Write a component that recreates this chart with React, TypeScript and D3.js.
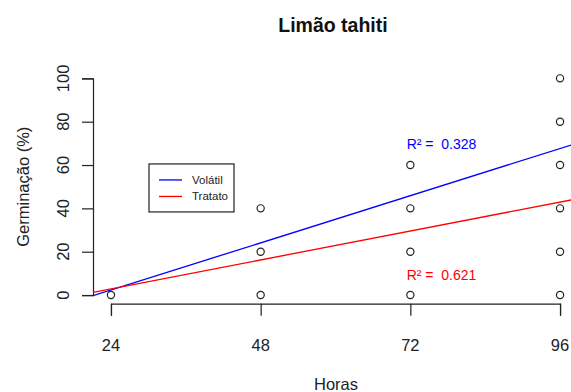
import React, { useEffect, useRef } from 'react';
import { select, scaleLinear, axisBottom, axisLeft } from 'd3';

// observed points (hours, germination %)
const pointHours = [24, 48, 48, 48, 72, 72, 72, 72, 96, 96, 96, 96, 96, 96];
const pointValues = [0, 0, 20, 40, 0, 20, 40, 60, 0, 20, 40, 60, 80, 100];

// fitted lines
const seriesNames = ['Volátil', 'Tratato'];
const seriesColors = ['blue', 'red'];
const intercepts = [-19.45, -10.49];
const slopes = [0.907, 0.556];
const r2Labels = ['0.328', '0.621'];
const r2LabelX = [77, 77];
const r2LabelY = [69.5, 9.2];

const xTicks = [24, 48, 72, 96];
const yTicks = [0, 20, 40, 60, 80, 100];

const width = 571;
const height = 392;

export default function App() {
  const svgRef = useRef<SVGSVGElement>(null);

  useEffect(() => {
    const svg = select(svgRef.current);
    svg.selectAll('*').remove();

    const x = scaleLinear().domain([21.12, 98.88]).range([93, 578]);
    const y = scaleLinear().domain([-4, 104]).range([303.7, 69.7]);

    const font = 'Liberation Sans, Arial, sans-serif';
    const textColor = '#222';

    // clip to plot region
    svg
      .append('defs')
      .append('clipPath')
      .attr('id', 'plotclip')
      .append('rect')
      .attr('x', x(21.12))
      .attr('y', y(104))
      .attr('width', x(98.88) - x(21.12))
      .attr('height', y(-4) - y(104));

    // title
    svg
      .append('text')
      .attr('x', 333)
      .attr('y', 32)
      .attr('text-anchor', 'middle')
      .attr('font-family', font)
      .attr('font-weight', 'bold')
      .attr('font-size', 19.5)
      .attr('fill', '#111')
      .text('Limão tahiti');

    // axes
    const xAxisScale = scaleLinear().domain([24, 96]).range([x(24), x(96)]);
    const xAxis = svg
      .append('g')
      .attr('transform', `translate(0,${y(-4)})`)
      .call(axisBottom(xAxisScale).tickValues(xTicks).tickSizeOuter(0).tickSize(12).tickFormat(() => ''));
    xAxis.selectAll('path,line').attr('stroke', '#222').attr('stroke-width', 1.2);

    svg
      .selectAll('.xlab')
      .data(xTicks)
      .join('text')
      .attr('class', 'xlab')
      .attr('x', d => x(d))
      .attr('y', 351)
      .attr('text-anchor', 'middle')
      .attr('font-family', font)
      .attr('font-size', 16.5)
      .attr('fill', textColor)
      .text(d => d);

    const yAxisScale = scaleLinear().domain([0, 100]).range([y(0), y(100)]);
    const yAxis = svg
      .append('g')
      .attr('transform', `translate(${x(21.12)},0)`)
      .call(axisLeft(yAxisScale).tickValues(yTicks).tickSizeOuter(0).tickSize(11).tickFormat(() => ''));
    yAxis.selectAll('path,line').attr('stroke', '#222').attr('stroke-width', 1.2);

    svg
      .selectAll('.ylab')
      .data(yTicks)
      .join('text')
      .attr('class', 'ylab')
      .attr('transform', d => `translate(68.5,${y(d)}) rotate(-90)`)
      .attr('text-anchor', 'middle')
      .attr('font-family', font)
      .attr('font-size', 16.5)
      .attr('fill', textColor)
      .text(d => d);

    // axis titles
    svg
      .append('text')
      .attr('x', 336)
      .attr('y', 390)
      .attr('text-anchor', 'middle')
      .attr('font-family', font)
      .attr('font-size', 16.5)
      .attr('fill', textColor)
      .text('Horas');

    svg
      .append('text')
      .attr('transform', `translate(28.5,${(y(0) + y(100)) / 2}) rotate(-90)`)
      .attr('text-anchor', 'middle')
      .attr('font-family', font)
      .attr('font-size', 16.5)
      .attr('fill', textColor)
      .text('Germinação (%)');

    // points
    svg
      .selectAll('.pt')
      .data(pointHours.map((h, i) => ({ h, v: pointValues[i] })))
      .join('circle')
      .attr('class', 'pt')
      .attr('cx', d => x(d.h))
      .attr('cy', d => y(d.v))
      .attr('r', 3.6)
      .attr('fill', 'none')
      .attr('stroke', '#222')
      .attr('stroke-width', 1.2);

    // regression lines
    const lineData = seriesNames.map((name, i) => ({
      name,
      color: seriesColors[i],
      a: intercepts[i],
      b: slopes[i]
    }));
    svg
      .append('g')
      .attr('clip-path', 'url(#plotclip)')
      .selectAll('line')
      .data(lineData)
      .join('line')
      .attr('x1', x(21.12))
      .attr('y1', d => y(d.a + d.b * 21.12))
      .attr('x2', x(98.88))
      .attr('y2', d => y(d.a + d.b * 98.88))
      .attr('stroke', d => d.color)
      .attr('stroke-width', 1.3);

    // R² labels
    svg
      .selectAll('.r2')
      .data(lineData)
      .join('text')
      .attr('class', 'r2')
      .attr('x', (d, i) => x(r2LabelX[i]))
      .attr('y', (d, i) => y(r2LabelY[i]))
      .attr('dy', '0.35em')
      .attr('text-anchor', 'middle')
      .attr('font-family', font)
      .attr('font-size', 14)
      .attr('fill', d => d.color)
      .style('white-space', 'pre')
      .text((d, i) => `R² =  ${r2Labels[i]}`);

    // legend
    const lx = x(30.1);
    const ly = y(60.5);
    const legend = svg.append('g').attr('transform', `translate(${lx},${ly})`);
    legend
      .append('rect')
      .attr('width', 85)
      .attr('height', 48)
      .attr('fill', 'white')
      .attr('stroke', '#222')
      .attr('stroke-width', 1.2);
    lineData.forEach((d, i) => {
      legend
        .append('line')
        .attr('x1', 10)
        .attr('x2', 33)
        .attr('y1', 16 + i * 16.5)
        .attr('y2', 16 + i * 16.5)
        .attr('stroke', d.color)
        .attr('stroke-width', 1.3);
      legend
        .append('text')
        .attr('x', 43)
        .attr('y', 16 + i * 16.5)
        .attr('dy', '0.35em')
        .attr('font-family', font)
        .attr('font-size', 11.5)
        .attr('fill', textColor)
        .text(d.name);
    });
  }, []);

  return (
    <svg
      ref={svgRef}
      width={width}
      height={height}
      style={{ position: 'absolute', left: 0, top: 0, background: 'white' }}
    ></svg>
  );
}
